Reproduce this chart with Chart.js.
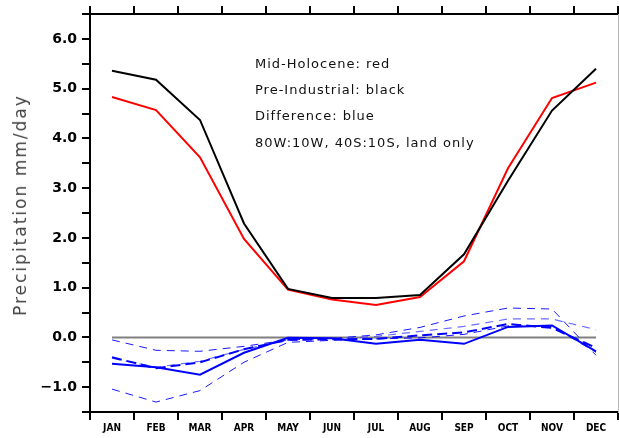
<!DOCTYPE html>
<html>
<head>
<meta charset="utf-8">
<script src="https://cdn.jsdelivr.net/npm/chart.js@4/dist/chart.umd.min.js"></script>
<style>
html,body{margin:0;padding:0;background:#fff;}
#wrap{position:relative;width:619px;height:438px;overflow:hidden;}
canvas{position:absolute;left:0;top:0;}
.note{position:absolute;left:255px;font-family:'DejaVu Sans',sans-serif;font-size:13px;letter-spacing:1px;color:#111;white-space:nowrap;line-height:13px;}
#ytitle{position:absolute;left:20px;top:205px;transform:translate(-50%,-50%) rotate(-90deg);font-family:'DejaVu Sans',sans-serif;font-size:17px;letter-spacing:2px;color:#444;white-space:nowrap;line-height:18px;}
</style>
</head>
<body>
<div id="wrap">
<canvas id="c" width="619" height="438"></canvas>
<div id="ytitle">Precipitation mm/day</div>
<div class="note" style="top:57px">Mid-Holocene: red</div>
<div class="note" style="top:83px">Pre-Industrial: black</div>
<div class="note" style="top:109px">Difference: blue</div>
<div class="note" style="top:136px">80W:10W, 40S:10S, land only</div>
</div>
<script>
const months = ['JAN','FEB','MAR','APR','MAY','JUN','JUL','AUG','SEP','OCT','NOV','DEC'];
const midHolocene   = [4.83, 4.57, 3.62, 1.98, 0.96, 0.76, 0.65, 0.81, 1.53, 3.40, 4.81, 5.12];
const preIndustrial = [5.36, 5.18, 4.37, 2.29, 0.975, 0.79, 0.79, 0.85, 1.67, 3.15, 4.56, 5.40];
const difference    = [-0.53, -0.60, -0.75, -0.31, -0.01, -0.02, -0.13, -0.05, -0.13, 0.21, 0.24, -0.28];
const diffUpper     = [-0.05, -0.26, -0.28, -0.18, -0.05, -0.02, 0.05, 0.20, 0.43, 0.59, 0.57, -0.36];
const diffMidUpper  = [-0.42, -0.60, -0.48, -0.24, -0.06, -0.03, 0.02, 0.12, 0.22, 0.37, 0.37, 0.155];
const diffMean      = [-0.40, -0.62, -0.50, -0.24, -0.05, -0.04, -0.03, 0.04, 0.10, 0.27, 0.19, -0.21];
const diffLower     = [-1.04, -1.30, -1.07, -0.50, -0.10, -0.06, -0.03, -0.01, 0.06, 0.23, 0.22, -0.30];
const zeroLine      = [0,0,0,0,0,0,0,0,0,0,0,0];
const yMajorTicks   = [-1, 0, 1, 2, 3, 4, 5, 6];

function fmt(v){ const s = Math.abs(v).toFixed(1); return v < 0 ? '\u2212' + s : s; }

const axisGrid = {drawOnChartArea:false, drawTicks:true, tickLength:8, color:'#000', lineWidth:2};
const axisBorder = {display:true, color:'#000', width:2};

function line(data, color, width, dash, order){
  return {data, borderColor:color, backgroundColor:color, borderWidth:width, borderDash:dash||[],
          pointRadius:0, pointHoverRadius:0, tension:0, fill:false, order};
}

new Chart(document.getElementById('c'), {
  type:'line',
  data:{
    labels: months,
    datasets:[
      line(zeroLine, '#808080', 2, null, 20),
      line(diffUpper, 'rgba(0,0,255,0.9)', 1, [8,6], 9),
      line(diffMidUpper, 'rgba(60,60,255,0.75)', 1.2, [8,6], 8),
      line(diffLower, 'rgba(0,0,255,0.9)', 1, [8,6], 7),
      line(diffMean, '#0000ff', 2, [10,5], 6),
      line(difference, '#0000ff', 2, null, 3),
      line(midHolocene, '#ff0000', 2, null, 2),
      line(preIndustrial, '#000000', 2, null, 1)
    ]
  },
  options:{
    responsive:false, animation:false, devicePixelRatio:1,
    layout:{padding:0},
    plugins:{legend:{display:false}, tooltip:{enabled:false}, title:{display:false}},
    events:[],
    scales:{
      x:{type:'category', position:'bottom', offset:true,
         grid:Object.assign({offset:true}, axisGrid), border:axisBorder,
         ticks:{color:'#000', autoSkip:false, maxRotation:0, padding:2,
                font:{family:"'Liberation Sans Narrow','DejaVu Sans Condensed','Liberation Sans',sans-serif", size:10, weight:'bold'}},
         afterFit(s){ s.height = 26; }},
      xTop:{type:'category', position:'top', offset:true, labels:months,
         grid:Object.assign({offset:true}, axisGrid), border:axisBorder,
         ticks:{display:false},
         afterFit(s){ s.height = 14; }},
      y:{type:'linear', position:'left', min:-1.5, max:6.5,
         grid:axisGrid, border:axisBorder,
         ticks:{stepSize:0.5, maxTicksLimit:20, autoSkip:false, padding:5, color:'#000',
                font:{family:"'DejaVu Sans',sans-serif", size:14, weight:'bold'},
                callback:(v)=> yMajorTicks.includes(v) ? fmt(v) : ''},
         afterFit(s){ s.width = 90; }},
      yRight:{type:'linear', position:'right', min:-1.5, max:6.5,
         grid:{display:false}, border:{display:true, color:'#b8b8b8', width:1},
         ticks:{display:false},
         afterFit(s){ s.width = 1; }}
    }
  }
});
</script>
</body>
</html>
